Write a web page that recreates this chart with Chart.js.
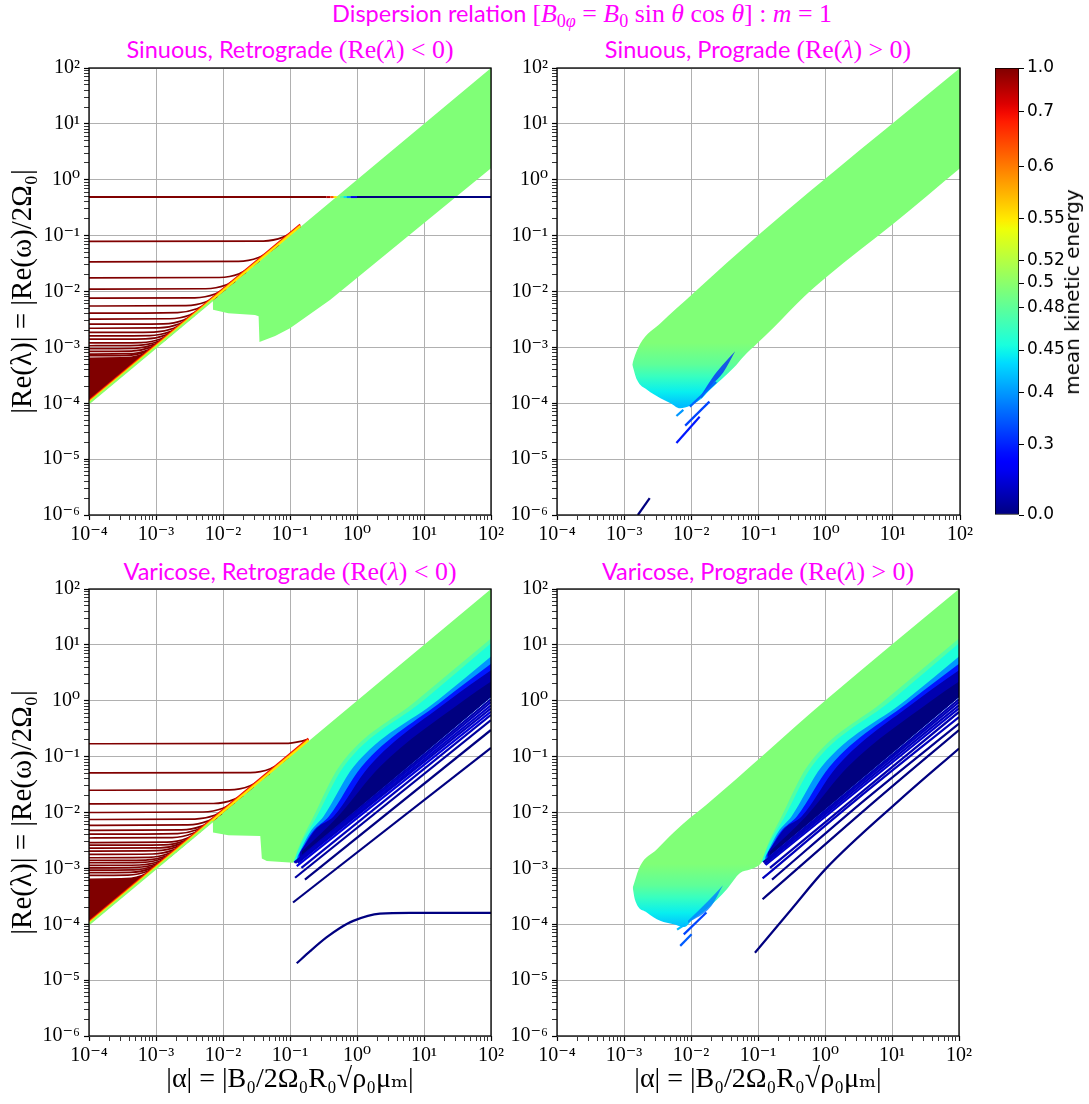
<!DOCTYPE html>
<html lang="en">
<head>
<meta charset="utf-8">
<title>Dispersion relation</title>
<script src="https://cdn.jsdelivr.net/npm/chart.js@4.4.1/dist/chart.umd.min.js"></script>
<style>
  html, body { margin: 0; padding: 0; background: #fff; }
  #page { position: relative; width: 1089px; height: 1104px; overflow: hidden; background: #fff; }
  #page canvas { position: absolute; }
  .ttl { position: absolute; transform: translateX(-50%); color: #ff00ff; white-space: nowrap; line-height: 1; font-size: 23.5px; }
  .sf { font-family: Lato, "DejaVu Sans", sans-serif; }
  .mm { font-family: "Liberation Serif", "DejaVu Serif", serif; font-size: 1.1em; }
  .mm sub { font-size: 0.7em; vertical-align: -0.3em; line-height: 0; }
  .cblabel { position: absolute; left: 1072px; top: 292px; transform: translate(-50%, -50%) rotate(-90deg);
             font-family: "DejaVu Sans", sans-serif; font-size: 20px; white-space: nowrap; color: #000; }
</style>
</head>
<body>
<div id="page">
  <div class="ttl" style="left:582px;top:1px;"><span class="sf">Dispersion relation </span><span class="mm">[<i>B</i><sub>0<i>φ</i></sub> = <i>B</i><sub>0</sub> sin <i>θ</i> cos <i>θ</i>] : <i>m</i> = 1</span></div>
  <div class="ttl" style="left:290px;top:37px;"><span class="sf">Sinuous, Retrograde </span><span class="mm">(Re(<i>λ</i>) &lt; 0)</span></div>
  <div class="ttl" style="left:758px;top:37px;"><span class="sf">Sinuous, Prograde </span><span class="mm">(Re(<i>λ</i>) &gt; 0)</span></div>
  <div class="ttl" style="left:290px;top:559px;"><span class="sf">Varicose, Retrograde </span><span class="mm">(Re(<i>λ</i>) &lt; 0)</span></div>
  <div class="ttl" style="left:758px;top:559px;"><span class="sf">Varicose, Prograde </span><span class="mm">(Re(<i>λ</i>) &gt; 0)</span></div>

  <canvas id="c-sr" width="511" height="540" style="left:0;top:40px"></canvas>
  <canvas id="c-sp" width="512" height="540" style="left:468px;top:40px"></canvas>
  <canvas id="c-vr" width="511" height="540" style="left:0;top:561px"></canvas>
  <canvas id="c-vp" width="511" height="540" style="left:468px;top:561px"></canvas>
  <canvas id="c-cb" width="129" height="500" style="left:960px;top:40px"></canvas>
  <div class="cblabel">mean kinetic energy</div>
</div>

<script>
// ---------- axes ----------
const X_DECADES = [1e-4, 1e-3, 1e-2, 1e-1, 1, 10, 100];
const X_TICK_LABELS = ['10⁻⁴', '10⁻³', '10⁻²', '10⁻¹', '10⁰', '10¹', '10²'];
const Y_DECADES = [1e-6, 1e-5, 1e-4, 1e-3, 1e-2, 1e-1, 1, 10, 100];
const Y_TICK_LABELS = ['10⁻⁶', '10⁻⁵', '10⁻⁴', '10⁻³', '10⁻²', '10⁻¹', '10⁰', '10¹', '10²'];
const X_TITLE = '|α| = |B₀/2Ω₀R₀√ρ₀μₘ|';
const Y_TITLE = '|Re(λ)| = |Re(ω)/2Ω₀|';

// ---------- colour bar ----------
const CB_VALUES = [0.0, 0.3, 0.4, 0.45, 0.48, 0.5, 0.52, 0.55, 0.6, 0.7, 1.0];
const CB_TICK_LABELS = ['0.0', '0.3', '0.4', '0.45', '0.48', '0.5', '0.52', '0.55', '0.6', '0.7', '1.0'];
const CB_TICK_POS = [0, 0.157, 0.273, 0.369, 0.465, 0.519, 0.57, 0.664, 0.779, 0.902, 1];

// ---------- energies of the shaded regions ----------
const BAND_ENERGY = 0.495;
const FAN_ENERGY = 1.0;
const STRIP_ENERGY = [0.7, 0.6, 0.55, 0.5];
const LOBE_SHADE_Y = [1.2e-3, 5e-4, 3e-4, 1.6e-4, 9e-5];
const LOBE_SHADE_E = [0.495, 0.48, 0.465, 0.445, 0.42];
const VAR_SHADE_ENERGY = [0.475, 0.455, 0.4, 0.28, 0.08, 0.0];

// ---------- Sinuous, retrograde ----------
const srBandUpper = [[7e-3, 7e-3], [1, 1], [100, 100]];
const srBandLower = [[7e-3, 7e-3], [7.1e-3, 4.7e-3], [0.012, 4.1e-3], [0.03, 3.8e-3], [0.034, 3.6e-3],
  [0.035, 1.25e-3], [0.06, 1.6e-3], [0.1, 2.2e-3], [0.4, 7.1e-3], [100, 1.6]];
const srDenseUpper = [[1e-4, 6.6e-4], [3e-4, 6.7e-4], [6e-4, 7.6e-4], [1e-3, 1.1e-3], [3e-3, 3.1e-3], [0.142, 0.144]];
const srDenseLower = [[1e-4, 1e-4], [0.142, 0.142]];
const srStrips = [
  [[1e-4, 1.12e-4], [0.142, 0.158]],
  [[1e-4, 1.07e-4], [0.142, 0.152]],
  [[1e-4, 1.035e-4], [0.142, 0.147]],
  [[1e-4, 1e-4], [7e-3, 7e-3]],
];
const srCurves = [
  [[1e-4, 0.079], [0.04, 0.08], [0.079, 0.094], [0.115, 0.122], [0.142, 0.146]],
  [[1e-4, 0.034], [0.017, 0.0345], [0.034, 0.0405], [0.051, 0.053], [0.068, 0.069]],
  [[1e-4, 0.0175], [0.0088, 0.0178], [0.0175, 0.0208], [0.026, 0.0275], [0.035, 0.0355]],
  [[1e-4, 0.011], [0.0055, 0.0112], [0.011, 0.0131], [0.0165, 0.0173], [0.022, 0.0223]],
  [[1e-4, 0.0076], [0.0038, 0.0077], [0.0076, 0.009], [0.0114, 0.0119], [0.0152, 0.0154]],
  [[1e-4, 0.0055], [0.0028, 0.0056], [0.0055, 0.0065], [0.0083, 0.0086], [0.011, 0.0112]],
  [[1e-4, 0.0041], [0.0021, 0.0042], [0.0041, 0.0049], [0.0062, 0.0064], [0.0082, 0.0083]],
  [[1e-4, 0.0032], [0.0016, 0.00325], [0.0032, 0.0038], [0.0048, 0.005], [0.0064, 0.0065]],
  [[1e-4, 0.0026], [0.0013, 0.00264], [0.0026, 0.0031], [0.0039, 0.0041], [0.0052, 0.0053]],
  [[1e-4, 0.0022], [0.0011, 0.00223], [0.0022, 0.00262], [0.0033, 0.00345], [0.0044, 0.00447]],
  [[1e-4, 0.00185], [9.3e-4, 0.00188], [0.00185, 0.0022], [0.0028, 0.0029], [0.0037, 0.00376]],
  [[1e-4, 0.0016], [8e-4, 0.00162], [0.0016, 0.0019], [0.0024, 0.00251], [0.0032, 0.00325]],
  [[1e-4, 0.0014], [7e-4, 0.00142], [0.0014, 0.00167], [0.0021, 0.0022], [0.0028, 0.00284]],
  [[1e-4, 0.0012], [6e-4, 0.00122], [0.0012, 0.00143], [0.0018, 0.00188], [0.0024, 0.00244]],
  [[1e-4, 0.00107], [5.4e-4, 0.00109], [0.00107, 0.00127], [0.0016, 0.00168], [0.00214, 0.00217]],
  [[1e-4, 9.5e-4], [4.8e-4, 9.6e-4], [9.5e-4, 0.00113], [0.00143, 0.00149], [0.0019, 0.00193]],
  [[1e-4, 8.5e-4], [4.3e-4, 8.6e-4], [8.5e-4, 0.00101], [0.00128, 0.00133], [0.0017, 0.00173]],
  [[1e-4, 7.6e-4], [3.8e-4, 7.7e-4], [7.6e-4, 9e-4], [0.00114, 0.00119], [0.00152, 0.00154]],
  [[1e-4, 7.1e-4], [3.6e-4, 7.2e-4], [7.1e-4, 8.4e-4], [0.00107, 0.00111], [0.00142, 0.00144]],
];
// [alpha, |Re(lambda)|, mean kinetic energy]
const srHalfLine = [[1e-4, 0.49, 1], [0.35, 0.49, 1], [0.4, 0.49, 0.7], [0.45, 0.49, 0.58], [0.5, 0.49, 0.52],
  [0.56, 0.49, 0.49], [0.63, 0.49, 0.46], [0.7, 0.49, 0.42], [0.8, 0.49, 0.35], [1, 0.49, 0], [100, 0.49, 0]];

// ---------- Sinuous, prograde ----------
const spBandUpper = [[1.32e-3, 4.9e-4], [1.38e-3, 6.0e-4], [1.74e-3, 1.17e-3], [3.47e-3, 2.7e-3],
  [0.0107, 9.3e-3], [0.107, 0.11], [100, 100]];
const spBandLower = [[1.32e-3, 4.9e-4], [1.55e-3, 2.63e-4], [2.19e-3, 1.74e-4], [3.47e-3, 1.23e-4],
  [4.9e-3, 1.0e-4], [6.8e-3, 8.1e-5], [0.0135, 1.15e-4], [0.019, 1.74e-4], [0.0427, 4.3e-4], [0.06, 6.9e-4],
  [0.095, 1.17e-3], [0.17, 2.3e-3], [0.468, 7.9e-3], [1.05, 0.0186], [10.4, 0.166], [100, 1.6]];
const spStreakUpper = [[0.014, 1.4e-4], [0.022, 3.2e-4], [0.032, 5.5e-4], [0.045, 8.5e-4]];
const spStreakLower = [[0.014, 1.2e-4], [0.02, 2.1e-4], [0.03, 3.6e-4], [0.045, 8.5e-4]];
const spDashes = [
  [[6.0e-3, 1.95e-5], [0.0133, 5.75e-5]],
  [[8.1e-3, 3.98e-5], [0.0186, 1.07e-4]],
  [[6.0e-3, 5.9e-5], [7.6e-3, 7.6e-5]],
  [[9.5e-3, 8.7e-5], [0.0234, 2.4e-4]],
  [[1.6e-3, 1e-6], [2.4e-3, 2.0e-6]],
];
const spDashEnergy = [0.28, 0.33, 0.4, 0.36, 0.0];

// ---------- Varicose, shared shading of the band ----------
const vShadeBounds = [
  [[0.112, 1.26e-3], [0.135, 2.4e-3], [0.224, 8.5e-3], [0.54, 0.066], [7.9, 1.03], [100, 13]],
  [[0.112, 1.26e-3], [0.141, 2.5e-3], [0.251, 8.5e-3], [0.631, 0.066], [10, 1.03], [100, 10.7]],
  [[0.126, 1.55e-3], [0.2, 4.5e-3], [0.316, 8.5e-3], [0.89, 0.066], [16.2, 1.03], [100, 6.2]],
  [[0.133, 1.7e-3], [0.22, 4.6e-3], [0.38, 8.5e-3], [1.17, 0.066], [19.5, 1.03], [100, 4.6]],
  [[0.14, 1.9e-3], [0.25, 5.2e-3], [0.447, 8.5e-3], [1.5, 0.066], [24, 1.03], [100, 3.5]],
  [[0.15, 2.0e-3], [0.52, 8.5e-3], [2.2, 0.066], [40, 1.03], [100, 2.2]],
];
const vBandFloor = [[0.112, 1.26e-3], [100, 1.17]];
const vGreenFloor = [[0.112, 1.26e-3], [0.141, 2.2e-3], [0.251, 6.5e-3], [0.631, 0.045], [10, 0.7], [100, 7]];

// ---------- Varicose, retrograde ----------
const vrBandUpper = [[7e-3, 7e-3], [1, 1], [100, 100]];
const vrNotch = [[7e-3, 7e-3], [7.1e-3, 4.4e-3], [0.012, 3.9e-3], [0.036, 3.8e-3], [0.038, 1.5e-3], [0.045, 1.35e-3]];
const vrDenseUpper = [[1e-4, 6.6e-4], [3e-4, 6.7e-4], [6e-4, 7.6e-4], [1e-3, 1.1e-3], [3e-3, 3.1e-3], [0.188, 0.19]];
const vrDenseLower = [[1e-4, 1e-4], [0.188, 0.188]];
const vrStrips = [
  [[1e-4, 1.12e-4], [0.188, 0.21]],
  [[1e-4, 1.07e-4], [0.188, 0.201]],
  [[1e-4, 1.035e-4], [0.188, 0.195]],
  [[1e-4, 1e-4], [7e-3, 7e-3]],
];
const vrCurves = [
  [[1e-4, 0.17], [0.085, 0.1725], [0.15, 0.19], [0.188, 0.205]],
  [[1e-4, 0.051], [0.0255, 0.0518], [0.051, 0.0607], [0.0765, 0.08], [0.095, 0.098]],
  [[1e-4, 0.025], [0.0125, 0.0254], [0.025, 0.0298], [0.0375, 0.0393], [0.05, 0.0508]],
  [[1e-4, 0.0143], [0.0072, 0.0145], [0.0143, 0.017], [0.0215, 0.0225], [0.0286, 0.029]],
  [[1e-4, 0.01], [0.005, 0.0102], [0.01, 0.0119], [0.015, 0.0157], [0.02, 0.0203]],
  [[1e-4, 0.0075], [0.0038, 0.0076], [0.0075, 0.0089], [0.0113, 0.0118], [0.015, 0.0152]],
  [[1e-4, 0.0059], [0.003, 0.006], [0.0059, 0.007], [0.0089, 0.0093], [0.0118, 0.012]],
  [[1e-4, 0.0048], [0.0024, 0.00487], [0.0048, 0.0057], [0.0072, 0.0075], [0.0096, 0.0097]],
  [[1e-4, 0.0041], [0.0021, 0.0042], [0.0041, 0.0049], [0.0062, 0.0064], [0.0082, 0.0083]],
  [[1e-4, 0.0035], [0.00175, 0.00355], [0.0035, 0.0042], [0.0053, 0.0055], [0.007, 0.0071]],
  [[1e-4, 0.0029], [0.00145, 0.00294], [0.0029, 0.00345], [0.0044, 0.0046], [0.0058, 0.0059]],
  [[1e-4, 0.0026], [0.0013, 0.00264], [0.0026, 0.0031], [0.0039, 0.0041], [0.0052, 0.0053]],
  [[1e-4, 0.0023], [0.00115, 0.00233], [0.0023, 0.00274], [0.00345, 0.0036], [0.0046, 0.00467]],
  [[1e-4, 0.00204], [0.00102, 0.00207], [0.00204, 0.00243], [0.00306, 0.0032], [0.00408, 0.00414]],
  [[1e-4, 0.00178], [8.9e-4, 0.00181], [0.00178, 0.00212], [0.00267, 0.0028], [0.00356, 0.00361]],
  [[1e-4, 0.00155], [7.8e-4, 0.00157], [0.00155, 0.00184], [0.00233, 0.00243], [0.0031, 0.00315]],
  [[1e-4, 0.00139], [7e-4, 0.00141], [0.00139, 0.00165], [0.0021, 0.00218], [0.00278, 0.00282]],
  [[1e-4, 0.00126], [6.3e-4, 0.00128], [0.00126, 0.0015], [0.0019, 0.00198], [0.00252, 0.00256]],
  [[1e-4, 0.00113], [5.7e-4, 0.00115], [0.00113, 0.00134], [0.0017, 0.00177], [0.00226, 0.00229]],
  [[1e-4, 0.00102], [5.1e-4, 0.00104], [0.00102, 0.00121], [0.00153, 0.0016], [0.00204, 0.00207]],
  [[1e-4, 9.3e-4], [4.7e-4, 9.4e-4], [9.3e-4, 0.0011], [0.0014, 0.00146], [0.00186, 0.00189]],
  [[1e-4, 8.4e-4], [4.2e-4, 8.5e-4], [8.4e-4, 0.001], [0.00126, 0.00132], [0.00168, 0.0017]],
  [[1e-4, 7.5e-4], [3.8e-4, 7.6e-4], [7.5e-4, 8.9e-4], [0.00113, 0.00118], [0.0015, 0.00152]],
];
const vrLines = [
  [[0.111, 2.45e-4], [100, 0.144]],
  [[0.167, 6.3e-4], [100, 0.30]],
  [[0.119, 6.8e-4], [100, 0.45]],
  [[0.148, 1.02e-3], [100, 0.56]],
  [[0.126, 1.1e-3], [100, 0.64]],
  [[0.13, 1.25e-3], [100, 0.73]],
  [[0.135, 1.35e-3], [100, 0.83]],
  [[0.12, 1.25e-3], [100, 0.95]],
  [[0.116, 1.27e-3], [100, 1.06]],
];
const vrLineEnergy = [0, 0, 0.05, 0.1, 0.15, 0.1, 0.12, 0.1, 0.08];
const vrPlateau = [[0.126, 2.0e-5], [0.2, 3.3e-5], [0.35, 5.8e-5], [0.55, 8.5e-5], [0.88, 1.15e-4], [2.2, 1.55e-4],
  [6.2, 1.6e-4], [100, 1.6e-4]];

// ---------- Varicose, prograde ----------
const vpBandUpper = [[1.35e-3, 4.5e-4], [1.74e-3, 1.1e-3], [3.1e-3, 2.2e-3], [5.5e-3, 4.4e-3], [9.8e-3, 8.1e-3],
  [0.017, 0.0138], [1, 1], [100, 100]];
const vpLobeLower = [[1.35e-3, 4.5e-4], [1.45e-3, 2.8e-4], [2.19e-3, 1.62e-4], [3.47e-3, 1.15e-4], [5.5e-3, 1.0e-4],
  [7.9e-3, 8.9e-5], [0.0107, 1.23e-4], [0.017, 1.86e-4], [0.034, 4.2e-4], [0.054, 8.3e-4], [0.076, 9.5e-4]];
const vpStreakUpper = [[9e-3, 1.15e-4], [0.018, 2.6e-4], [0.03, 5e-4]];
const vpStreakLower = [[9e-3, 1.05e-4], [0.02, 2.1e-4], [0.03, 5e-4]];
const vpLines = [
  [[0.09, 3.1e-5], [0.316, 1.86e-4], [1, 9.5e-4], [13.2, 0.017], [100, 0.14]],
  [[0.117, 2.8e-4], [5.9, 0.017], [100, 0.3]],
  [[0.162, 6.3e-4], [3.98, 0.017], [100, 0.39]],
  [[0.117, 6.6e-4], [2.95, 0.017], [100, 0.51]],
  [[0.151, 1.02e-3], [100, 0.63]],
  [[0.13, 1.15e-3], [100, 0.73]],
  [[0.125, 1.2e-3], [100, 0.83]],
  [[0.14, 1.45e-3], [100, 0.95]],
  [[0.12, 1.28e-3], [100, 1.06]],
];
const vpLineEnergy = [0, 0, 0.02, 0.1, 0.08, 0.12, 0.1, 0.1, 0.08];
const vpDashes = [
  [[6.9e-3, 4.1e-5], [0.0102, 6.6e-5]],
  [[7.8e-3, 6.6e-5], [0.017, 1.62e-4]],
  [[6.2e-3, 8e-5], [8.2e-3, 1.0e-4]],
];
const vpDashEnergy = [0.35, 0.33, 0.42];

// ---------- colour helpers ----------
const SERIF = '"Liberation Serif", "DejaVu Serif", serif';
const JET = {
  r: [[0, 0], [0.35, 0], [0.66, 1], [0.89, 1], [1, 0.5]],
  g: [[0, 0], [0.125, 0], [0.375, 1], [0.64, 1], [0.91, 0], [1, 0]],
  b: [[0, 0.5], [0.11, 1], [0.34, 1], [0.65, 0], [1, 0]],
};

function piecewise(xs, ys, v) {
  if (v <= xs[0]) return ys[0];
  for (let i = 1; i < xs.length; i++) {
    if (v <= xs[i]) return ys[i - 1] + ((ys[i] - ys[i - 1]) * (v - xs[i - 1])) / (xs[i] - xs[i - 1]);
  }
  return ys[ys.length - 1];
}

function jet(t, alpha = 1) {
  const ch = (tbl) => Math.round(255 * piecewise(tbl.map((p) => p[0]), tbl.map((p) => p[1]), t));
  return `rgba(${ch(JET.r)},${ch(JET.g)},${ch(JET.b)},${alpha})`;
}

function energyColor(e, alpha = 1) {
  return jet(piecewise(CB_VALUES, CB_TICK_POS, e), alpha);
}

function lobeGradient(c) {
  const chart = c.chart;
  if (!chart.chartArea) return energyColor(BAND_ENERGY);
  const y = chart.scales.y;
  const top = y.getPixelForValue(LOBE_SHADE_Y[0]);
  const bottom = y.getPixelForValue(LOBE_SHADE_Y[LOBE_SHADE_Y.length - 1]);
  const g = chart.ctx.createLinearGradient(0, top, 0, bottom);
  LOBE_SHADE_Y.forEach((v, i) => g.addColorStop((y.getPixelForValue(v) - top) / (bottom - top), energyColor(LOBE_SHADE_E[i])));
  return g;
}

// ---------- dataset builder ----------
const pts = (arr) => arr.map((p) => ({ x: p[0], y: p[1], e: p[2] }));

function makeSet() {
  const ds = [];
  const base = { pointRadius: 0, pointHitRadius: 0, fill: false, tension: 0 };
  const add = (d) => ds.push(Object.assign({}, base, d)) - 1;
  const mode = (smooth) => (smooth ? 'monotone' : 'default');
  return {
    ds,
    line(points, e, width, order, smooth) {
      add({ data: pts(points), borderColor: energyColor(e), borderWidth: width, order, cubicInterpolationMode: mode(smooth) });
    },
    energyLine(points, width, order) {
      const data = pts(points);
      add({
        data, borderColor: energyColor(points[0][2]), borderWidth: width, order,
        segment: { borderColor: (c) => energyColor((data[c.p0DataIndex].e + data[c.p1DataIndex].e) / 2) },
      });
    },
    area(upper, lower, color, order, smooth) {
      const target = add({ data: pts(lower), borderColor: 'rgba(0,0,0,0)', borderWidth: 0, order: 200, cubicInterpolationMode: mode(smooth) });
      add({ data: pts(upper), borderColor: 'rgba(0,0,0,0)', borderWidth: 0, backgroundColor: color, fill: target, order, cubicInterpolationMode: mode(smooth) });
    },
  };
}

function addVarShades(s) {
  vShadeBounds.forEach((b, i) => s.area(b, vBandFloor, energyColor(VAR_SHADE_ENERGY[i]), 57 - i, true));
}

function sinRetroSets() {
  const s = makeSet();
  s.area(srBandUpper, srBandLower, energyColor(BAND_ENERGY), 60, false);
  s.area(srDenseUpper, srDenseLower, energyColor(FAN_ENERGY), 40, true);
  srCurves.forEach((c) => s.line(c, FAN_ENERGY, 1.7, 20, true));
  srStrips.forEach((c, i) => s.line(c, STRIP_ENERGY[i], 2, 14 - i, false));
  s.energyLine(srHalfLine, 2, 1);
  return s.ds;
}

function sinProSets() {
  const s = makeSet();
  s.area(spBandUpper, spBandLower, lobeGradient, 60, true);
  s.area(spStreakUpper, spStreakLower, energyColor(0.3, 0.75), 49, true);
  spDashes.forEach((c, i) => s.line(c, spDashEnergy[i], 2.2, 20, false));
  return s.ds;
}

function varRetroSets() {
  const s = makeSet();
  s.area(vrBandUpper, [...vrNotch, ...vGreenFloor], energyColor(BAND_ENERGY), 60, false);
  addVarShades(s);
  s.area(vrDenseUpper, vrDenseLower, energyColor(FAN_ENERGY), 40, true);
  vrCurves.forEach((c) => s.line(c, FAN_ENERGY, 1.7, 20, true));
  vrStrips.forEach((c, i) => s.line(c, STRIP_ENERGY[i], 2, 14 - i, false));
  vrLines.forEach((c, i) => s.line(c, vrLineEnergy[i], 2.2, 20, false));
  s.line(vrPlateau, 0, 2.2, 20, true);
  return s.ds;
}

function varProSets() {
  const s = makeSet();
  s.area(vpBandUpper, [...vpLobeLower, ...vGreenFloor], lobeGradient, 60, true);
  addVarShades(s);
  s.area(vpStreakUpper, vpStreakLower, energyColor(0.38, 0.8), 49, true);
  vpLines.forEach((c, i) => s.line(c, vpLineEnergy[i], 2.2, 20, true));
  vpDashes.forEach((c, i) => s.line(c, vpDashEnergy[i], 2.2, 20, false));
  return s.ds;
}

// ---------- axes config ----------
function logTicks(decades) {
  const out = [];
  decades.forEach((d, i) => {
    out.push({ value: d, major: true });
    if (i < decades.length - 1) for (let k = 2; k < 10; k++) out.push({ value: d * k, major: false });
  });
  return out;
}

function decadeLabel(v, decades, labels) {
  const i = decades.findIndex((d) => Math.abs(Math.log10(v / d)) < 1e-6);
  return i < 0 ? '' : labels[i];
}

function panelScales(showX, showY) {
  const grid = {
    color: (c) => (c.tick && c.tick.major ? '#b0b0b0' : 'rgba(0,0,0,0)'),
    lineWidth: 1,
    drawTicks: true,
    tickLength: 5,
    tickColor: '#000',
    tickWidth: (c) => (c.tick && c.tick.major ? 1.2 : 0.8),
  };
  const tickFont = { family: SERIF, size: 20 };
  return {
    x: {
      type: 'logarithmic', min: X_DECADES[0], max: X_DECADES[X_DECADES.length - 1],
      afterBuildTicks: (a) => { a.ticks = logTicks(X_DECADES); },
      afterFit: (a) => { a.height = 62; },
      grid, border: { display: false },
      ticks: { autoSkip: false, maxRotation: 0, minRotation: 0, color: '#000', font: tickFont, padding: 3,
        callback: (v) => decadeLabel(v, X_DECADES, X_TICK_LABELS) },
      title: { display: showX, text: X_TITLE, color: '#000', font: { family: SERIF, size: 28 }, padding: { top: 0, bottom: 2 } },
    },
    y: {
      type: 'logarithmic', min: Y_DECADES[0], max: Y_DECADES[Y_DECADES.length - 1],
      afterBuildTicks: (a) => { a.ticks = logTicks(Y_DECADES); },
      afterFit: (a) => { a.width = 89; },
      grid, border: { display: false },
      ticks: { autoSkip: false, color: '#000', font: tickFont, padding: 4,
        callback: (v) => decadeLabel(v, Y_DECADES, Y_TICK_LABELS) },
      title: { display: showY, text: Y_TITLE, color: '#000', font: { family: SERIF, size: 29 }, padding: { top: 6, bottom: 0 } },
    },
  };
}

const framePlugin = {
  id: 'frame',
  afterDatasetsDraw(chart) {
    const { ctx, chartArea: a } = chart;
    ctx.save();
    ctx.strokeStyle = '#000';
    ctx.lineWidth = 1.3;
    ctx.strokeRect(a.left, a.top, a.right - a.left, a.bottom - a.top);
    ctx.restore();
  },
};

function makePanel(id, datasets, showX, showY) {
  return new Chart(document.getElementById(id), {
    type: 'line',
    data: { datasets },
    options: {
      responsive: false, animation: false, events: [], devicePixelRatio: 1,
      layout: { padding: { left: 0, top: 28, right: 20, bottom: 3 } },
      plugins: { legend: { display: false }, tooltip: { enabled: false } },
      scales: panelScales(showX, showY),
    },
    plugins: [framePlugin],
  });
}

makePanel('c-sr', sinRetroSets(), false, true);
makePanel('c-sp', sinProSets(), false, false);
makePanel('c-vr', varRetroSets(), true, true);
makePanel('c-vp', varProSets(), true, false);

// ---------- colour bar ----------
function jetGradient(chart) {
  const a = chart.chartArea;
  if (!a) return '#7f7f7f';
  const g = chart.ctx.createLinearGradient(0, a.bottom, 0, a.top);
  for (let i = 0; i <= 50; i++) g.addColorStop(i / 50, jet(i / 50));
  return g;
}

new Chart(document.getElementById('c-cb'), {
  type: 'bar',
  data: {
    labels: [''],
    datasets: [{ data: [1], backgroundColor: (c) => jetGradient(c.chart), borderColor: '#000', borderWidth: 1,
      borderSkipped: false, barPercentage: 1, categoryPercentage: 1 }],
  },
  options: {
    responsive: false, animation: false, events: [], devicePixelRatio: 1,
    layout: { padding: { left: 35, right: 0, top: 28, bottom: 25 } },
    plugins: { legend: { display: false }, tooltip: { enabled: false } },
    scales: {
      x: { display: false },
      y: {
        position: 'right', min: 0, max: 1,
        afterBuildTicks: (a) => { a.ticks = CB_TICK_POS.map((v) => ({ value: v })); },
        afterFit: (a) => { a.width = 70; },
        grid: { drawOnChartArea: false, drawTicks: true, tickLength: 5, tickColor: '#000' },
        border: { display: false },
        ticks: { autoSkip: false, color: '#000', padding: 3, font: { family: '"DejaVu Sans", sans-serif', size: 17 },
          callback: (v, i) => CB_TICK_LABELS[i] },
      },
    },
  },
});
</script>
</body>
</html>
